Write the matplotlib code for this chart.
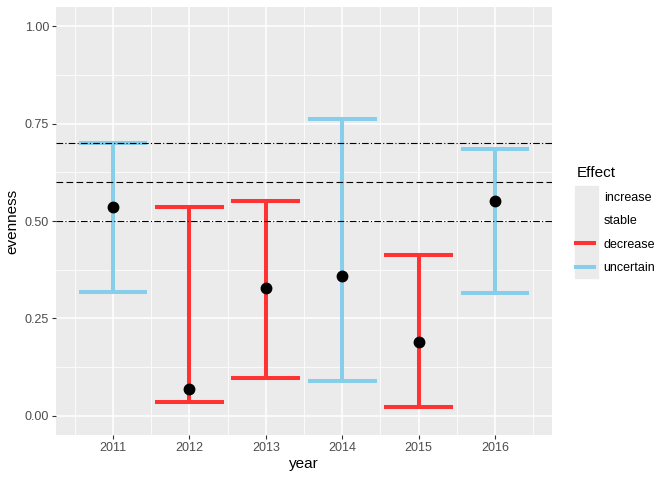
import matplotlib
matplotlib.use("Agg")
import matplotlib.pyplot as plt
from matplotlib.lines import Line2D
import numpy as np

years = [2011, 2012, 2013, 2014, 2015, 2016]
evenness = [0.536, 0.068, 0.328, 0.358, 0.190, 0.552]
lower = [0.317, 0.034, 0.097, 0.089, 0.022, 0.315]
upper = [0.700, 0.537, 0.551, 0.763, 0.412, 0.684]
effect = ["uncertain", "decrease", "decrease", "uncertain", "decrease", "uncertain"]

effect_levels = ["increase", "stable", "decrease", "uncertain"]
effect_colors = {"increase": None, "stable": None, "decrease": "#FF3333", "uncertain": "#87CEEB"}

ref_dotdash = [0.5, 0.7]
ref_dashed = 0.6

plt.rcParams["font.family"] = ["Liberation Sans", "DejaVu Sans"]

fig = plt.figure(figsize=(6.72, 4.8), dpi=100)
ax = fig.add_axes([56 / 672, 1 - 435 / 480, (552 - 56) / 672, (435 - 7) / 480])
ax.set_facecolor("#EBEBEB")
for s in ax.spines.values():
    s.set_visible(False)

bar_w = 0.9
x_lo = min(years) - bar_w / 2
x_hi = max(years) + bar_w / 2
pad = (x_hi - x_lo) * 0.05
ax.set_xlim(x_lo - pad, x_hi + pad)
ax.set_ylim(-0.05, 1.05)

ax.set_xticks(years)
ax.set_xticks(np.arange(min(years) - 0.5, max(years) + 1, 1.0), minor=True)
ax.set_yticks([0, 0.25, 0.5, 0.75, 1.0])
ax.set_yticks([0.125, 0.375, 0.625, 0.875], minor=True)
ax.set_yticklabels(["0.00", "0.25", "0.50", "0.75", "1.00"])
ax.grid(True, which="major", color="white", linewidth=1.1)
ax.grid(True, which="minor", color="white", linewidth=0.55)
ax.set_axisbelow(True)
ax.tick_params(which="major", length=3, width=0.8, color="#333333", labelsize=9,
               labelcolor="#4D4D4D", pad=2)
ax.tick_params(which="minor", length=0)

lw = 2.9
for x, lo, hi, e in zip(years, lower, upper, effect):
    c = effect_colors[e]
    ax.plot([x, x], [lo, hi], color=c, lw=lw, solid_capstyle="butt", zorder=2)
    ax.plot([x - bar_w / 2, x + bar_w / 2], [lo, lo], color=c, lw=lw, solid_capstyle="butt", zorder=2)
    ax.plot([x - bar_w / 2, x + bar_w / 2], [hi, hi], color=c, lw=lw, solid_capstyle="butt", zorder=2)

for yv in ref_dotdash:
    ax.axhline(yv, color="black", lw=0.8, linestyle=(0, (6, 2, 1, 2)), zorder=3)
ax.axhline(ref_dashed, color="black", lw=0.8, linestyle=(0, (6, 3)), zorder=3)

ax.plot(years, evenness, "o", color="black", markersize=7.5, zorder=4)

ax.set_xlabel("year", fontsize=11, labelpad=2)
ax.set_ylabel("evenness", fontsize=11, labelpad=4)

handles = []
for lvl in effect_levels:
    c = effect_colors[lvl]
    if c is None:
        handles.append(Line2D([], [], color="none", lw=lw))
    else:
        handles.append(Line2D([], [], color=c, lw=lw))
leg = fig.legend(handles, effect_levels, title="Effect", loc="upper left",
                 bbox_to_anchor=(570 / 672, 1 - 160 / 480), frameon=False,
                 fontsize=9, title_fontsize=11, handlelength=1.45,
                 handletextpad=0.75, labelspacing=0.92, borderpad=0)
leg._legend_box.align = "left"

# grey key background behind legend handles
fig.patches.append(plt.Rectangle((575 / 672, 1 - 278 / 480), 23 / 672, 92 / 480,
                                 transform=fig.transFigure, color="#EBEBEB", zorder=0))

fig.savefig("out.png", dpi=100)
